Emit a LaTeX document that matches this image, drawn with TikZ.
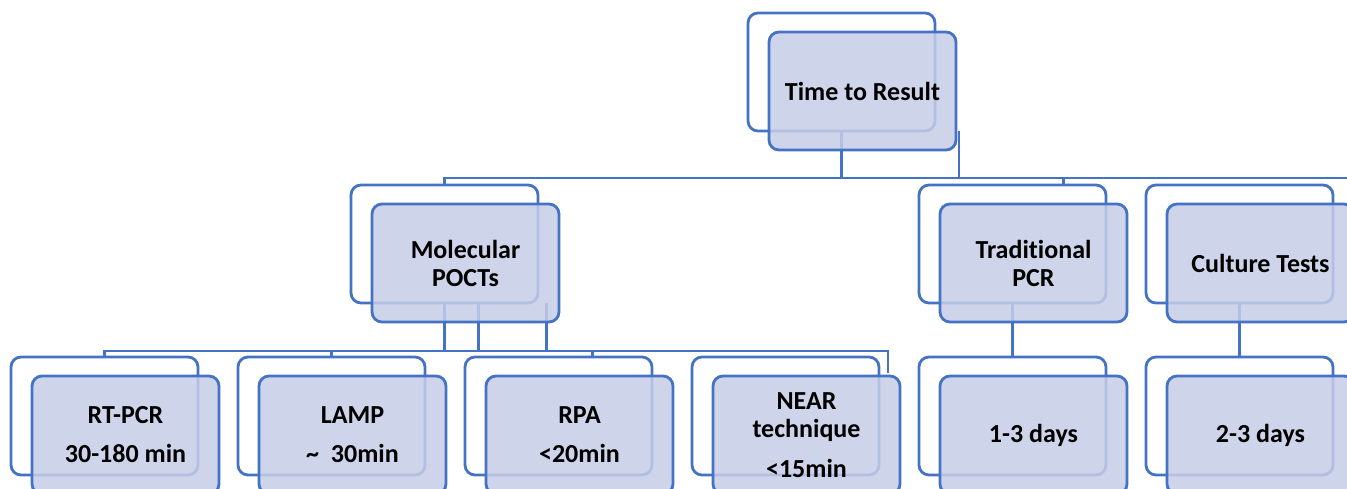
\documentclass[tikz,border=0pt]{standalone}
\usepackage{fontspec}
\setmainfont{Carlito}[Ligatures=NoCommon]
\usetikzlibrary{calc}
\definecolor{linkblue}{HTML}{4472C4}
\definecolor{boxfill}{RGB}{198,205,230}

\begin{document}
\begin{tikzpicture}[x=1pt,y=-1pt,
  link/.style={draw=linkblue, line width=2.8pt},
  backbox/.style={draw=linkblue, line width=2.8pt, rounded corners=10pt,
    minimum width=187pt, minimum height=118pt, inner sep=0pt, outer sep=0pt,
    anchor=north west},
  frontbox/.style={backbox, fill=boxfill, fill opacity=0.85, text opacity=1,
    text=black, font=\fontsize{26}{28}\selectfont\bfseries, align=center},
]
\useasboundingbox (0,0) rectangle (1347,488);
\clip (0,0) rectangle (1347,488);

% outline frames behind each box
\node[backbox] (topb)  at (748,13)  {};
\node[backbox] (molb)  at (351,185) {};
\node[backbox] (tradb) at (919,185) {};
\node[backbox] (cultb) at (1146,185) {};
\node[backbox] (rtb)   at (11,357)  {};
\node[backbox] (lampb) at (238,357) {};
\node[backbox] (rpab)  at (465,357) {};
\node[backbox] (nearb) at (692,357) {};
\node[backbox] (d13b)  at (919,357) {};
\node[backbox] (d23b)  at (1146,357) {};

% bus lines
\coordinate (bus1) at (0,178);
\coordinate (bus2) at (0,351);
\coordinate (rim)  at (1347,178);

% first level connectors
\draw[link] (topb.south) -- (topb.south |- bus1) -| (molb.north);
\draw[link] (molb.north) |- (rim);
\draw[link] ($(topb.south east)+(24,0)$) -- ++(0,48);
\draw[link] ($(tradb.north)+(51,0)$) -- ++(0,-7);

% second level connectors
\draw[link] (molb.south) -- (molb.south |- bus2) -| (rtb.north);
\draw[link] (lampb.north) -- (lampb.north |- bus2);
\draw[link] ($(molb.south)+(34,0)$) -- ++(0,48);
\draw[link] ($(molb.south)+(102,0)$) -- ++(0,48);
\draw[link] ($(rpab.north)+(34,0)$) -- ++(0,-6);
\draw[link] (molb.south |- bus2) -| ($(nearb.north east)+(9,16)$);
\draw[link] (tradb.south) -- (d13b.north);
\draw[link] (cultb.south) -- (d23b.north);

% filled boxes with labels
\node[frontbox] (top)  at (769,32)   {Time to Result};
\node[frontbox] (mol)  at (372,204)  {Molecular\\POCTs};
\node[frontbox] (trad) at (940,204)  {Traditional\\PCR};
\node[frontbox] (cult) at (1167,204) {Culture Tests};
\node[frontbox] (rt)   at (32,376)   {RT-PCR\\[11pt]30-180 min};
\node[frontbox] (lamp) at (259,376)  {LAMP\\[11pt]\textasciitilde\ \ 30min};
\node[frontbox] (rpa)  at (486,376)  {RPA\\[11pt]{<}20min};
\node[frontbox] (near) at (713,376)  {NEAR\\technique\\[12pt]{<}15min};
\node[frontbox] (d13)  at (940,376)  {1-3 days};
\node[frontbox] (d23)  at (1167,376) {2-3 days};
\end{tikzpicture}
\end{document}
